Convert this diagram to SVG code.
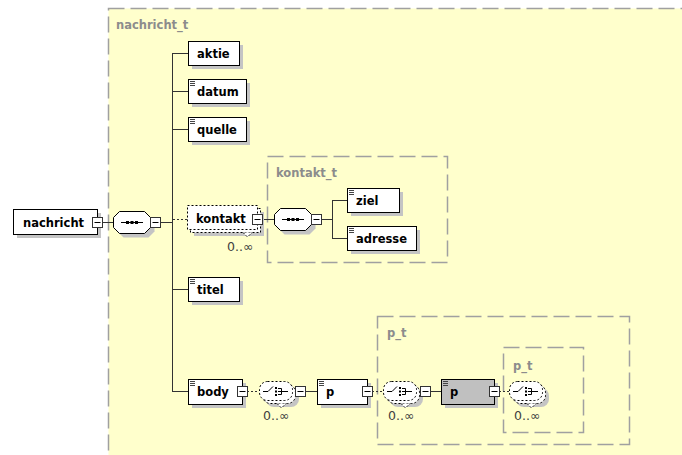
<svg xmlns="http://www.w3.org/2000/svg" width="682" height="455" viewBox="0 0 682 455">
<style>
.bg{fill:#fff}
.box{fill:#fff;stroke:#000;stroke-width:1}
.gbox{fill:#c0c0c0;stroke:#000;stroke-width:1}
.dbox{fill:#fff;stroke:#000;stroke-width:1;stroke-dasharray:2 2}
.sh{fill:#c4c4c4}
.lbl{font-family:"DejaVu Sans",sans-serif;font-weight:bold;font-size:11.5px;fill:#000}
.tl{font-family:"DejaVu Sans",sans-serif;font-weight:bold;font-size:11.5px;fill:#8c8c8c}
.occ{font-family:"DejaVu Sans",sans-serif;font-size:12.5px;fill:#404040}
.frame{fill:none;stroke:#a0a0a0;stroke-width:1.5;stroke-dasharray:16 6}
.conn{stroke:#333;stroke-width:1;fill:none}
.dash{stroke-dasharray:2 2}
.ic{stroke:#444;stroke-width:1;fill:none}
.ink{stroke:#000;stroke-width:1;fill:none}
</style>
<defs>
<g id="exp"><rect x="0.5" y="0.5" width="10" height="10" fill="#fff" stroke="#333"/><path d="M2.5 5.5H8.5" stroke="#000"/></g>
<path id="simp" d="M2 2.5H7M2 4.5H7M2 6.5H7" class="ic"/>
<g id="seq">
<polygon points="6.5,0.5 31.5,0.5 37.5,6.5 37.5,16.5 31.5,22.5 6.5,22.5 0.5,16.5 0.5,6.5" transform="translate(4,4)" fill="#c4c4c4"/>
<polygon points="6.5,0.5 31.5,0.5 37.5,6.5 37.5,16.5 31.5,22.5 6.5,22.5 0.5,16.5 0.5,6.5" fill="#fff" stroke="#000"/>
<path d="M8 11.5H30" stroke="#000"/>
<rect x="13" y="10" width="3" height="3" fill="#000"/><rect x="17.5" y="10" width="3" height="3" fill="#000"/><rect x="22" y="10" width="3" height="3" fill="#000"/>
</g>
<g id="cho">
<rect x="7" y="7" width="33" height="19" rx="8" fill="#c4c4c4"/>
<rect x="3.5" y="3.5" width="33" height="19" rx="8" class="dbox"/>
<path d="M18 22.5L22.5 27L27 22.5" class="dbox"/>
<rect x="0.5" y="0.5" width="33" height="19" rx="8" class="dbox"/>
<path d="M4 10.5H9L14 5.5" class="ink"/>
<rect x="16" y="6" width="2" height="2" fill="#000"/><rect x="16" y="9.5" width="2" height="2" fill="#000"/><rect x="16" y="13" width="2" height="2" fill="#000"/>
<path d="M19 7.5H22.5V13.5H19M19 10.5H29" class="ink"/>
</g>
</defs>

<g id="nachricht_t">
<rect x="108.5" y="8.5" width="620" height="470" class="frame" style="fill:#ffffcc"/>
<text x="116" y="29" class="tl">nachricht_t</text>
</g>

<g id="kontakt_t">
<rect x="267.5" y="156.5" width="180" height="106" class="frame"/>
<text x="276" y="177" class="tl">kontakt_t</text>
</g>

<g id="p_t">
<rect x="377.5" y="316.5" width="252" height="128" class="frame"/>
<text x="387" y="337" class="tl">p_t</text>
</g>

<g id="p_t_inner">
<rect x="503.5" y="347.5" width="80" height="85" class="frame"/>
<text x="513" y="370" class="tl">p_t</text>
</g>

<g id="connectors">
<path d="M102 222.5H113" class="conn"/>
<path d="M160 222.5H172" class="conn"/>
<path d="M172.5 53V391.5" class="conn"/>
<path d="M172 53.5H188M172 91.5H188M172 129.5H188M172 289.5H188M172 391.5H188" class="conn"/>
<path d="M173 219.5H187" class="conn dash"/>
<path d="M262 219.5H274" class="conn"/>
<path d="M321 219.5H332" class="conn"/>
<path d="M332.5 200V238.5" class="conn"/>
<path d="M332 200.5H347M332 238.5H347" class="conn"/>
<path d="M247 391.5H259" class="conn dash"/>
<path d="M305 391.5H317" class="conn"/>
<path d="M372 391.5H383" class="conn dash"/>
<path d="M430 391.5H441" class="conn"/>
<path d="M499 391.5H509" class="conn dash"/>
</g>

<g id="nachricht">
<rect x="17" y="213" width="84" height="25" class="sh"/>
<rect x="13.5" y="209.5" width="84" height="25" class="box"/>
<text x="23" y="226.5" class="lbl">nachricht</text>
<use href="#exp" x="92" y="217"/>
</g>

<g id="seq1"><use href="#seq" x="113" y="211"/><use href="#exp" x="150" y="217"/></g>

<g id="aktie">
<rect x="192" y="45" width="51" height="24" class="sh"/>
<rect x="188.5" y="41.5" width="51" height="24" class="box"/>
<text x="197" y="57.5" class="lbl">aktie</text>
</g>
<g id="datum">
<rect x="192" y="83" width="58" height="24" class="sh"/>
<rect x="188.5" y="79.5" width="58" height="24" class="box"/>
<use href="#simp" x="188" y="79"/>
<text x="197" y="95.5" class="lbl">datum</text>
</g>
<g id="quelle">
<rect x="192" y="121" width="58" height="24" class="sh"/>
<rect x="188.5" y="117.5" width="58" height="24" class="box"/>
<use href="#simp" x="188" y="117"/>
<text x="197" y="133.5" class="lbl">quelle</text>
</g>

<g id="kontakt">
<rect x="194" y="212" width="70" height="24" class="sh"/>
<rect x="190.5" y="208.5" width="70" height="24" class="dbox"/>
<path d="M243 232.5L247.5 237L252 232.5" class="dbox"/>
<rect x="187.5" y="205.5" width="70" height="24" class="dbox"/>
<text x="196" y="222.5" class="lbl">kontakt</text>
<use href="#exp" x="252" y="214"/>
<text x="227" y="251" class="occ">0..∞</text>
</g>

<g id="seq2"><use href="#seq" x="274" y="208"/><use href="#exp" x="311" y="214"/></g>

<g id="ziel">
<rect x="351" y="192" width="52" height="24" class="sh"/>
<rect x="347.5" y="188.5" width="52" height="24" class="box"/>
<use href="#simp" x="347" y="188"/>
<text x="356" y="204.5" class="lbl">ziel</text>
</g>
<g id="adresse">
<rect x="351" y="230" width="69" height="24" class="sh"/>
<rect x="347.5" y="226.5" width="69" height="24" class="box"/>
<use href="#simp" x="347" y="226"/>
<text x="356" y="242.5" class="lbl">adresse</text>
</g>

<g id="titel">
<rect x="192" y="281" width="51" height="24" class="sh"/>
<rect x="188.5" y="277.5" width="51" height="24" class="box"/>
<use href="#simp" x="188" y="277"/>
<text x="197" y="293.5" class="lbl">titel</text>
</g>

<g id="body">
<rect x="192" y="383" width="54" height="25" class="sh"/>
<rect x="188.5" y="379.5" width="54" height="25" class="box"/>
<use href="#simp" x="188" y="379"/>
<text x="197" y="396" class="lbl">body</text>
<use href="#exp" x="237" y="386"/>
</g>

<g id="choice1"><use href="#cho" x="259" y="381"/><use href="#exp" x="295" y="386"/><text x="263" y="420" class="occ">0..∞</text></g>

<g id="p1">
<rect x="321" y="383" width="50" height="25" class="sh"/>
<rect x="317.5" y="379.5" width="50" height="25" class="box"/>
<use href="#simp" x="317" y="379"/>
<text x="326" y="396" class="lbl">p</text>
<use href="#exp" x="362" y="386"/>
</g>

<g id="choice2"><use href="#cho" x="383" y="381"/><use href="#exp" x="420" y="386"/><text x="388" y="420" class="occ">0..∞</text></g>

<g id="p2">
<rect x="445" y="383" width="53" height="25" class="sh"/>
<rect x="441.5" y="379.5" width="53" height="25" class="gbox"/>
<use href="#simp" x="441" y="379"/>
<text x="450" y="396" class="lbl">p</text>
<use href="#exp" x="489" y="386"/>
</g>

<g id="choice3"><use href="#cho" x="509" y="381"/><text x="514" y="420" class="occ">0..∞</text></g>
</svg>
